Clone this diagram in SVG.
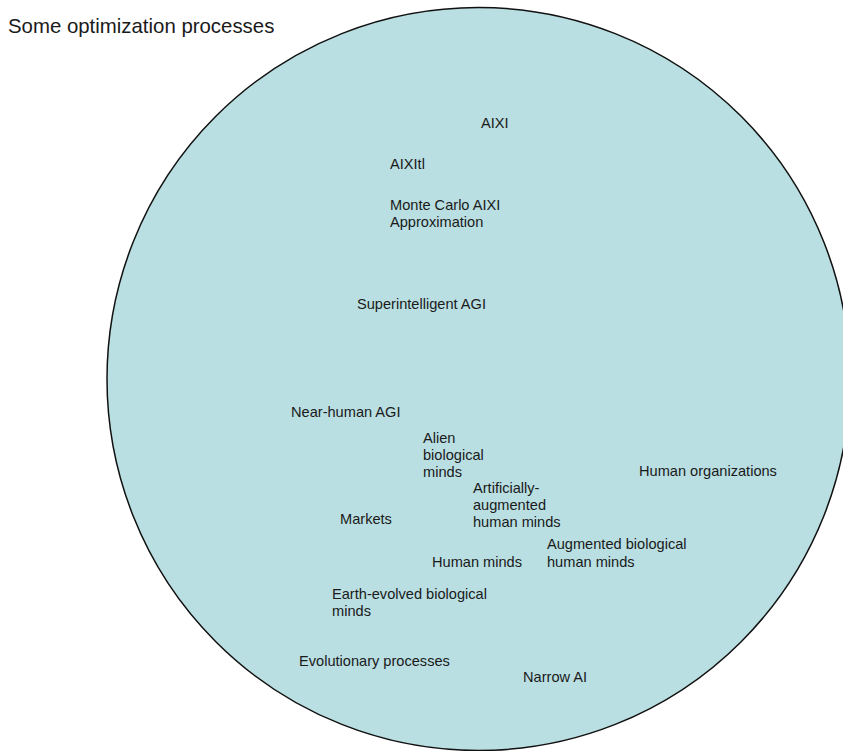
<svg xmlns="http://www.w3.org/2000/svg" width="843" height="751" viewBox="0 0 843 751">
<style>
text{font-family:"Liberation Sans",Arial,sans-serif;fill:#1a1a1a}
.l{font-size:14.6px}
.t{font-size:20.4px}
</style>
<rect width="843" height="751" fill="#ffffff"/>
<g id="set">
<circle cx="478.5" cy="379" r="371.5" fill="#b9dfe2" stroke="#111" stroke-width="1.5"/>
</g>
<text class="t" x="8" y="33">Some optimization processes</text>
<g id="aixi"><text class="l" x="481" y="128">AIXI</text></g>
<g id="aixitl"><text class="l" x="390" y="169">AIXItl</text></g>
<g id="mcaixi"><text class="l" x="390" y="210">Monte Carlo AIXI</text><text class="l" x="390" y="227">Approximation</text></g>
<g id="superagi"><text class="l" x="357" y="309">Superintelligent AGI</text></g>
<g id="nearagi"><text class="l" x="291" y="417">Near-human AGI</text></g>
<g id="alien"><text class="l" x="423" y="443">Alien</text><text class="l" x="423" y="460">biological</text><text class="l" x="423" y="477">minds</text></g>
<g id="orgs"><text class="l" x="639" y="476">Human organizations</text></g>
<g id="artaug"><text class="l" x="473" y="493">Artificially-</text><text class="l" x="473" y="510">augmented</text><text class="l" x="473" y="527">human minds</text></g>
<g id="markets"><text class="l" x="340" y="524">Markets</text></g>
<g id="augbio"><text class="l" x="547" y="549">Augmented biological</text><text class="l" x="547" y="567">human minds</text></g>
<g id="human"><text class="l" x="432" y="567">Human minds</text></g>
<g id="earth"><text class="l" x="332" y="599">Earth-evolved biological</text><text class="l" x="332" y="616">minds</text></g>
<g id="evo"><text class="l" x="299" y="666">Evolutionary processes</text></g>
<g id="narrow"><text class="l" x="523" y="682">Narrow AI</text></g>
<g id="connectors"></g>
</svg>
